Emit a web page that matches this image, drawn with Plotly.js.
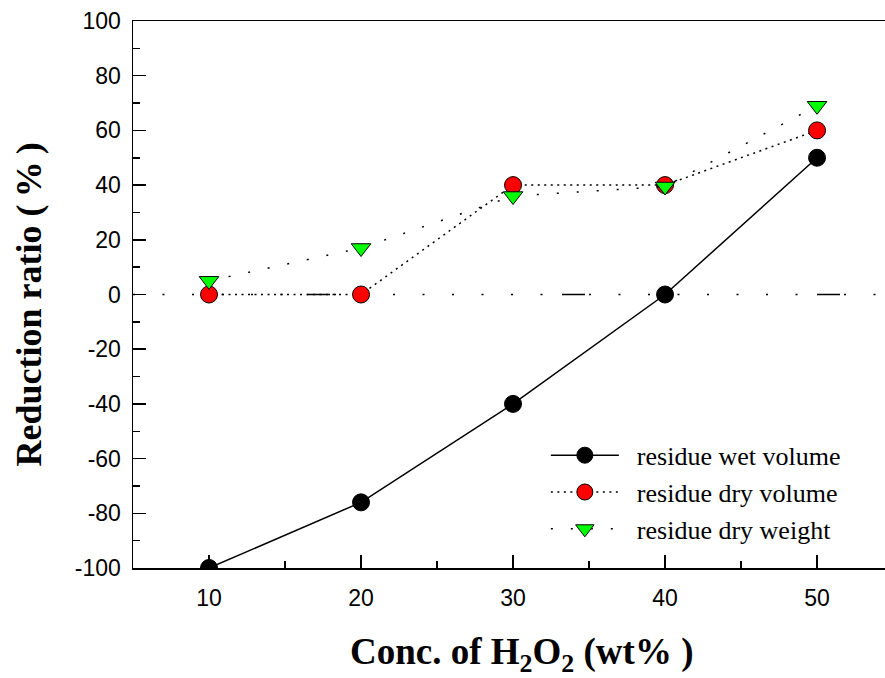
<!DOCTYPE html>
<html>
<head>
<meta charset="utf-8">
<script src="https://cdn.plot.ly/plotly-3.0.1.min.js"></script>
<style>html,body{margin:0;padding:0;background:#fff;}#chart{width:885px;height:678px;}</style>
</head>
<body>
<div id="chart"></div>
<script>
const conc = [10, 20, 30, 40, 50];
const wetVolume = [-100, -76, -40, 0, 50];
const dryVolume = [0, 0, 40, 40, 60];
const dryWeight = [5, 17, 36, 39.5, 69];
const seriesNames = ["residue wet volume", "residue dry volume", "residue dry weight"];
const xTickVals = [10, 20, 30, 40, 50];
const xTickText = ["10", "20", "30", "40", "50"];
const yTickVals = [-100, -80, -60, -40, -20, 0, 20, 40, 60, 80, 100];
const yTickText = ["-100", "-80", "-60", "-40", "-20", "0", "20", "40", "60", "80", "100"];
const xTitle = "Conc. of H<sub>2</sub>O<sub>2</sub> (wt% )";
const yTitle = "Reduction ratio (\u2009%\u2009)";

const pad = "\u00a0\u00a0";
const mline = {color: "black", width: 1};
const traces = [
  {x: conc, y: wetVolume, name: pad + seriesNames[0], mode: "lines+markers", legendgroup: "a",
   line: {color: "black", width: 1.5, dash: "solid"},
   marker: {symbol: "circle", size: 17, color: "black", line: mline}},
  {x: conc, y: dryVolume, name: pad + seriesNames[1], mode: "lines+markers", legendgroup: "b",
   line: {color: "black", width: 1.5, dash: "2px,4.5px"},
   marker: {symbol: "circle", size: 17, color: "#ff0000", line: mline}},
  {x: conc, y: dryWeight, name: pad + seriesNames[2], mode: "lines+markers", legendgroup: "c",
   line: {color: "black", width: 1.5, dash: "2px,18px"},
   marker: {symbol: "triangle-down", size: 17, color: "#00ff00", line: mline}}
];

// zero reference line: dot-dash pattern
const dotSeg = "2px,27.5px,";
const period = "23px,4px," + "2px,27.5px,".repeat(7) + "2px,19.5px,";
const zeroDash = (dotSeg.repeat(5) + "2px,24.5px," + period.repeat(3)).replace(/,$/, "");

const titleFont = {family: "Liberation Serif, Times New Roman, serif", color: "black", weight: "bold"};

const layout = {
  width: 885, height: 678,
  margin: {l: 133, r: 0, t: 21, b: 110},
  paper_bgcolor: "white", plot_bgcolor: "white",
  showlegend: true,
  legend: {x: 0.549, y: 0.249, xanchor: "left", yanchor: "top", bgcolor: "rgba(0,0,0,0)",
           font: {family: "Liberation Serif, Times New Roman, serif", size: 26, color: "black"},
           itemwidth: 68, traceorder: "grouped", tracegroupgap: 0},
  xaxis: {range: [5, 54.47], showgrid: false, zeroline: false,
          tickvals: xTickVals, ticktext: xTickText, ticks: "inside", ticklen: 13, tickwidth: 1.5, tickcolor: "black",
          minor: {dtick: 5, tick0: 0, ticks: "inside", ticklen: 7, tickwidth: 1.5, tickcolor: "black"},
          showline: true, linecolor: "black", linewidth: 1.5, mirror: true,
          ticklabelstandoff: 9,
          tickfont: {family: "Liberation Sans, Arial, sans-serif", size: 23, color: "black"}},
  yaxis: {range: [-100, 100], showgrid: false, zeroline: false,
          tickvals: yTickVals, ticktext: yTickText, ticks: "inside", ticklen: 13, tickwidth: 1.5, tickcolor: "black",
          minor: {dtick: 10, ticks: "inside", ticklen: 7, tickwidth: 1.5, tickcolor: "black"},
          showline: true, linecolor: "black", linewidth: 1.5,
          ticklabelstandoff: 6,
          tickfont: {family: "Liberation Sans, Arial, sans-serif", size: 23, color: "black"}},
  annotations: [
    {text: xTitle, xref: "paper", yref: "paper", x: 0.516, y: -0.159, xanchor: "center", yanchor: "middle",
     showarrow: false, font: Object.assign({size: 37}, titleFont)},
    {text: yTitle, xref: "paper", yref: "paper", x: -0.1396, y: 0.4817, xanchor: "center", yanchor: "middle",
     textangle: -90, showarrow: false, font: Object.assign({size: 36}, titleFont)}
  ],
  shapes: [{type: "line", xref: "paper", yref: "y", x0: 0, x1: 1, y0: 0, y1: 0, layer: "below",
            line: {color: "black", width: 1.5, dash: zeroDash}}]
};

Plotly.newPlot("chart", traces, layout, {staticPlot: true});
</script>
</body>
</html>
